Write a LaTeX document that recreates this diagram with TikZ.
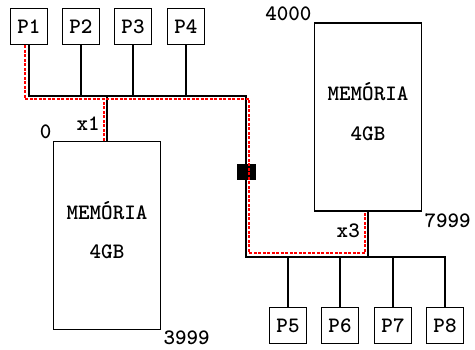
\documentclass[tikz,border=0pt]{standalone}
\usetikzlibrary{calc,positioning}
\newcommand{\memtext}[1]{\path (#1.center) ++(0,-25) node[lbl] {MEMÓRIA} ++(0,41.5) node[lbl] {4GB};}

\begin{document}
\begin{tikzpicture}[x=1pt,y=-1pt,
  cpu/.style={draw,line width=1.6pt,minimum width=37pt,minimum height=36pt,inner sep=0pt,font=\ttfamily\bfseries\fontsize{22}{22}\selectfont},
  mem/.style={draw,line width=1.6pt,minimum width=107pt,minimum height=188pt,inner sep=0pt},
  lbl/.style={inner sep=0pt,font=\ttfamily\bfseries\fontsize{22}{22}\selectfont},
  bus/.style={line width=1.6pt},
  trace/.style={red,line width=1.4pt,dash pattern=on 3pt off 1.5pt}]
\useasboundingbox (0,0) rectangle (475,349);
% processors
\foreach \i/\x in {1/29,2/81,3/133,4/186} \node[cpu] (p\i) at (\x,26.5) {P\i};
\foreach \i/\x in {5/288,6/340,7/393,8/445} \node[cpu] (p\i) at (\x,325.5) {P\i};
% memories
\node[mem] (m1) at (107,235.5) {};\memtext{m1}
\node[mem] (m2) at (368,117) {};\memtext{m2}
% bus
\coordinate (ne) at (246,96);\coordinate (sw) at (246,257);
\draw[bus] (p1.south) |- (ne) -- (sw) -| (p8.north);
\foreach \i in {2,3,4} \draw[bus] (p\i.south) -- (p\i.south |- ne);
\foreach \i in {5,6,7} \draw[bus] (p\i.north) -- (p\i.north |- sw);
\draw[bus] (m1.north) -- (m1.north |- ne);
\draw[bus] (m2.south) -- (m2.south |- sw);
\node[draw,fill=black,minimum width=18pt,minimum height=15pt,inner sep=0pt] (gate) at (246,172) {};
% access path
\draw[trace] ($(p1.south)+(-4,0)$) |- ($(ne)+(3,3)$) -- ($(sw)+(3,-4)$) -| ($(m2.south)+(-3,0)$);
\draw[trace] ($(m1.north)+(-3,0)$) -- ($(m1.north |- ne)+(-3,3)$);
% addresses
\node[lbl,anchor=south east] at ($(m1.north west)+(-1,-2)$) {0};
\node[lbl,anchor=south east] at ($(m1.north)+(-7,-10)$) {x1};
\node[lbl,anchor=north west] at ($(m1.south east)+(2,0)$) {3999};
\node[lbl,anchor=south east] at ($(m2.north west)+(-2,-1)$) {4000};
\node[lbl,anchor=north west] at ($(m2.south east)+(2,2)$) {7999};
\node[lbl,anchor=north east] at ($(m2.south)+(-8,12)$) {x3};
\end{tikzpicture}
\end{document}
